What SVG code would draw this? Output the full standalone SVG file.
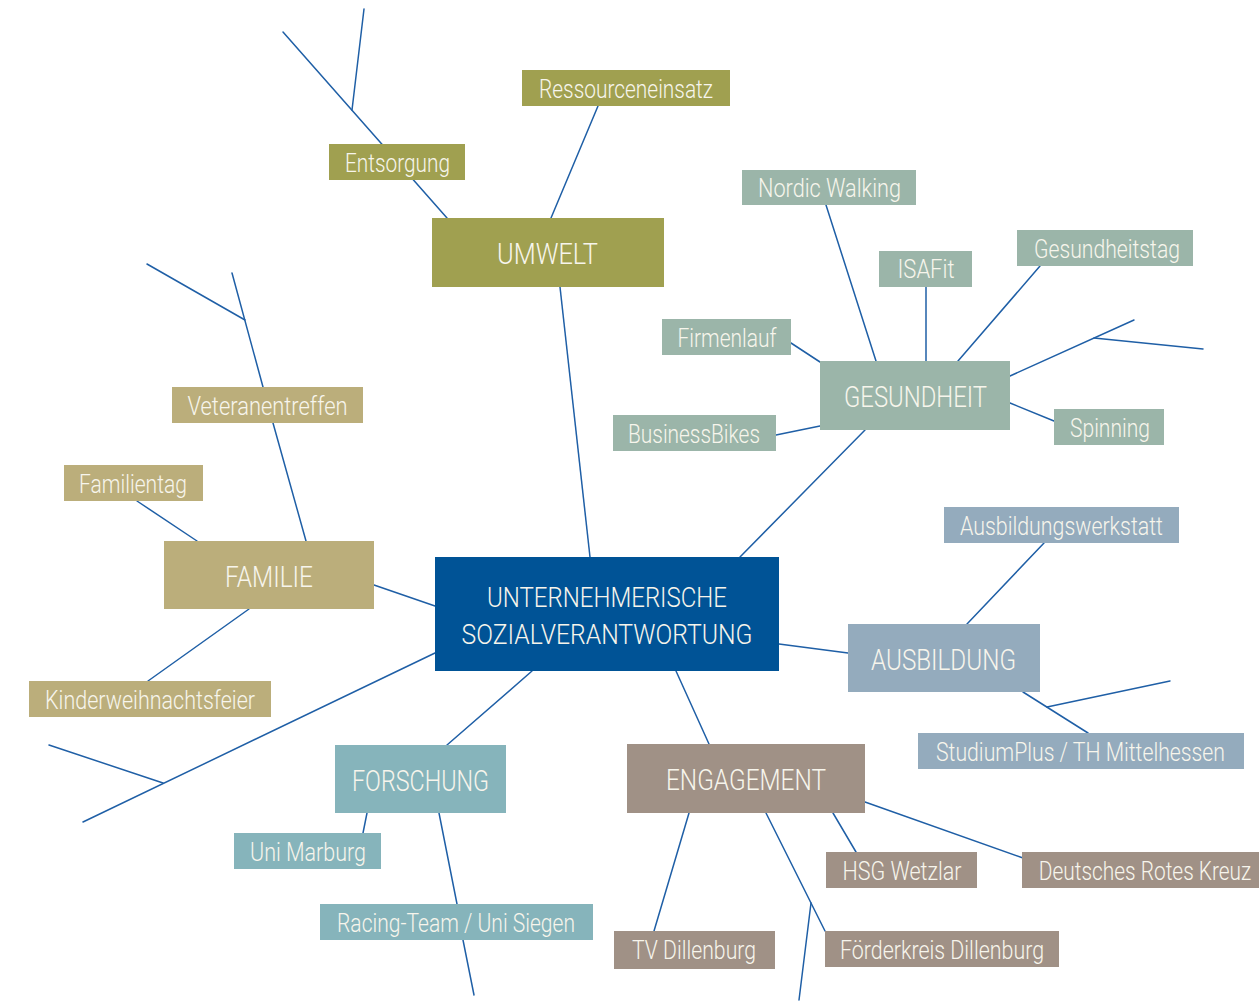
<svg xmlns="http://www.w3.org/2000/svg" width="1259" height="1001" viewBox="0 0 1259 1001">
<style>
  .ln { stroke: #1f5fa6; stroke-width: 1.5; fill: none; stroke-linecap: round; }
  text { font-family: Roboto, "Liberation Sans", sans-serif; font-weight: 300; fill: #f7f5ec; text-anchor: middle; }
  .s { font-size: 25px; }
  .b { font-size: 30px; }
  .c { font-size: 28px; }
  .umw { fill: #a0a050; }
  .fam { fill: #bbae7b; }
  .ges { fill: #9bb5a9; }
  .aus { fill: #94abbd; }
  .for { fill: #86b4bb; }
  .eng { fill: #a09186; }
  .ctr { fill: #005396; }
</style>
<rect width="1259" height="1001" fill="#ffffff"/>
<g id="connectors">
  <line class="ln" x1="283" y1="32" x2="447" y2="218"/>
  <line class="ln" x1="352" y1="110" x2="364" y2="9"/>
  <line class="ln" x1="598" y1="106" x2="551" y2="218"/>
  <line class="ln" x1="560" y1="287" x2="590" y2="557"/>
  <line class="ln" x1="826" y1="205" x2="876" y2="361"/>
  <line class="ln" x1="926" y1="287" x2="926" y2="361"/>
  <line class="ln" x1="1040" y1="266" x2="958" y2="361"/>
  <line class="ln" x1="791" y1="343" x2="820" y2="362"/>
  <line class="ln" x1="776" y1="435" x2="820" y2="426"/>
  <line class="ln" x1="1010" y1="403" x2="1054" y2="421"/>
  <line class="ln" x1="1010" y1="376" x2="1134" y2="320"/>
  <line class="ln" x1="1094" y1="338" x2="1203" y2="349"/>
  <line class="ln" x1="865" y1="430" x2="740" y2="557"/>
  <line class="ln" x1="306" y1="541" x2="273" y2="423"/>
  <line class="ln" x1="263" y1="387" x2="232" y2="273"/>
  <line class="ln" x1="245" y1="320" x2="147" y2="264"/>
  <line class="ln" x1="137" y1="501" x2="197" y2="541"/>
  <line class="ln" x1="374" y1="585" x2="435" y2="606"/>
  <line class="ln" x1="249" y1="609" x2="148" y2="681"/>
  <line class="ln" x1="435" y1="653" x2="83" y2="822"/>
  <line class="ln" x1="163" y1="783" x2="49" y2="745"/>
  <line class="ln" x1="532" y1="671" x2="447" y2="745"/>
  <line class="ln" x1="367" y1="813" x2="363" y2="833"/>
  <line class="ln" x1="439" y1="813" x2="457" y2="904"/>
  <line class="ln" x1="463" y1="940" x2="474" y2="995"/>
  <line class="ln" x1="779" y1="644" x2="848" y2="653"/>
  <line class="ln" x1="1044" y1="543" x2="967" y2="624"/>
  <line class="ln" x1="1023" y1="692" x2="1088" y2="733"/>
  <line class="ln" x1="1047" y1="707" x2="1170" y2="681"/>
  <line class="ln" x1="676" y1="671" x2="709" y2="744"/>
  <line class="ln" x1="689" y1="813" x2="654" y2="931"/>
  <line class="ln" x1="766" y1="813" x2="825" y2="931"/>
  <line class="ln" x1="811" y1="903" x2="799" y2="1000"/>
  <line class="ln" x1="833" y1="813" x2="856" y2="852"/>
  <line class="ln" x1="865" y1="802" x2="1023" y2="858"/>
</g>
<g id="center">
  <rect class="ctr" x="435" y="557" width="344" height="114"/>
  <text class="c" x="607" y="607" textLength="240" lengthAdjust="spacingAndGlyphs">UNTERNEHMERISCHE</text>
  <text class="c" x="607" y="644" textLength="291" lengthAdjust="spacingAndGlyphs">SOZIALVERANTWORTUNG</text>
</g>
<g id="umwelt">
  <rect class="umw" x="432" y="218" width="232" height="69"/>
  <text class="b" x="547.5" y="264" textLength="101" lengthAdjust="spacingAndGlyphs">UMWELT</text>
</g>
<g id="ressourceneinsatz">
  <rect class="umw" x="522" y="70" width="208" height="36"/>
  <text class="s" x="626" y="98" textLength="174" lengthAdjust="spacingAndGlyphs">Ressourceneinsatz</text>
</g>
<g id="entsorgung">
  <rect class="umw" x="329" y="144" width="136" height="36"/>
  <text class="s" x="397.5" y="171.5" textLength="105" lengthAdjust="spacingAndGlyphs">Entsorgung</text>
</g>
<g id="gesundheit">
  <rect class="ges" x="820" y="361" width="190" height="69"/>
  <text class="b" x="915.5" y="407" textLength="143" lengthAdjust="spacingAndGlyphs">GESUNDHEIT</text>
</g>
<g id="nordic-walking">
  <rect class="ges" x="742" y="170" width="174" height="35"/>
  <text class="s" x="829.5" y="197" textLength="143" lengthAdjust="spacingAndGlyphs">Nordic Walking</text>
</g>
<g id="isafit">
  <rect class="ges" x="879" y="251" width="93" height="36"/>
  <text class="s" x="926" y="278" textLength="57" lengthAdjust="spacingAndGlyphs">ISAFit</text>
</g>
<g id="gesundheitstag">
  <rect class="ges" x="1017" y="230" width="176" height="36"/>
  <text class="s" x="1107" y="257.5" textLength="146" lengthAdjust="spacingAndGlyphs">Gesundheitstag</text>
</g>
<g id="firmenlauf">
  <rect class="ges" x="662" y="319" width="129" height="36"/>
  <text class="s" x="727" y="346.5" textLength="99" lengthAdjust="spacingAndGlyphs">Firmenlauf</text>
</g>
<g id="businessbikes">
  <rect class="ges" x="613" y="415" width="163" height="36"/>
  <text class="s" x="694" y="442.5" textLength="132" lengthAdjust="spacingAndGlyphs">BusinessBikes</text>
</g>
<g id="spinning">
  <rect class="ges" x="1054" y="409" width="110" height="36"/>
  <text class="s" x="1110" y="436.5" textLength="80" lengthAdjust="spacingAndGlyphs">Spinning</text>
</g>
<g id="familie">
  <rect class="fam" x="164" y="541" width="210" height="68"/>
  <text class="b" x="269" y="587" textLength="88" lengthAdjust="spacingAndGlyphs">FAMILIE</text>
</g>
<g id="veteranentreffen">
  <rect class="fam" x="172" y="387" width="191" height="36"/>
  <text class="s" x="267.5" y="414.5" textLength="160" lengthAdjust="spacingAndGlyphs">Veteranentreffen</text>
</g>
<g id="familientag">
  <rect class="fam" x="64" y="465" width="139" height="36"/>
  <text class="s" x="133" y="492.5" textLength="108" lengthAdjust="spacingAndGlyphs">Familientag</text>
</g>
<g id="kinderweihnachtsfeier">
  <rect class="fam" x="29" y="681" width="242" height="36"/>
  <text class="s" x="150" y="708.5" textLength="210" lengthAdjust="spacingAndGlyphs">Kinderweihnachtsfeier</text>
</g>
<g id="forschung">
  <rect class="for" x="335" y="745" width="171" height="68"/>
  <text class="b" x="420.5" y="791" textLength="137" lengthAdjust="spacingAndGlyphs">FORSCHUNG</text>
</g>
<g id="uni-marburg">
  <rect class="for" x="234" y="833" width="147" height="36"/>
  <text class="s" x="308" y="860.5" textLength="116" lengthAdjust="spacingAndGlyphs">Uni Marburg</text>
</g>
<g id="racing-team">
  <rect class="for" x="320" y="904" width="273" height="36"/>
  <text class="s" x="456" y="931.5" textLength="238" lengthAdjust="spacingAndGlyphs">Racing-Team / Uni Siegen</text>
</g>
<g id="ausbildung">
  <rect class="aus" x="848" y="624" width="192" height="68"/>
  <text class="b" x="943.5" y="670" textLength="145" lengthAdjust="spacingAndGlyphs">AUSBILDUNG</text>
</g>
<g id="ausbildungswerkstatt">
  <rect class="aus" x="944" y="507" width="235" height="36"/>
  <text class="s" x="1061.5" y="534.5" textLength="203" lengthAdjust="spacingAndGlyphs">Ausbildungswerkstatt</text>
</g>
<g id="studiumplus">
  <rect class="aus" x="918" y="733" width="326" height="36"/>
  <text class="s" transform="translate(1080.5 760.5) scale(0.85 1)" x="0" y="0" textLength="340" lengthAdjust="spacingAndGlyphs">StudiumPlus / TH Mittelhessen</text>
</g>
<g id="engagement">
  <rect class="eng" x="627" y="744" width="238" height="69"/>
  <text class="b" x="746" y="790" textLength="160" lengthAdjust="spacingAndGlyphs">ENGAGEMENT</text>
</g>
<g id="hsg-wetzlar">
  <rect class="eng" x="826" y="852" width="151" height="36"/>
  <text class="s" x="902" y="879.5" textLength="119" lengthAdjust="spacingAndGlyphs">HSG Wetzlar</text>
</g>
<g id="drk">
  <rect class="eng" x="1022" y="852" width="237" height="36"/>
  <text class="s" transform="translate(1145 879.5) scale(0.85 1)" x="0" y="0" textLength="250" lengthAdjust="spacingAndGlyphs">Deutsches Rotes Kreuz</text>
</g>
<g id="tv-dillenburg">
  <rect class="eng" x="614" y="931" width="161" height="38"/>
  <text class="s" x="694" y="959" textLength="124" lengthAdjust="spacingAndGlyphs">TV Dillenburg</text>
</g>
<g id="foerderkreis">
  <rect class="eng" x="825" y="931" width="234" height="36"/>
  <text class="s" x="942" y="958.5" textLength="204" lengthAdjust="spacingAndGlyphs">Förderkreis Dillenburg</text>
</g>
</svg>
